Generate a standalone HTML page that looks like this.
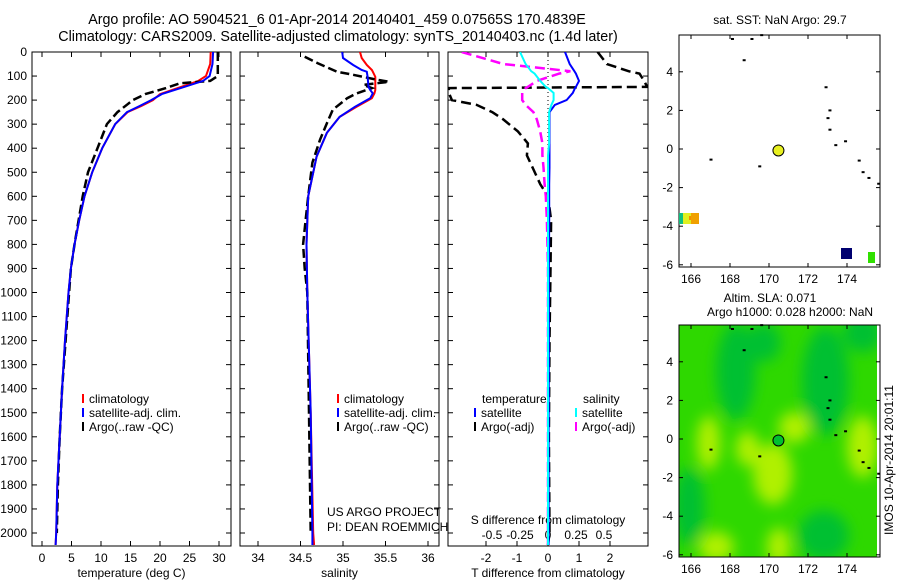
<!DOCTYPE html>
<html><head><meta charset="utf-8"><style>
body{margin:0;background:#fff;width:900px;height:580px;overflow:hidden;font-family:"Liberation Sans",sans-serif}
svg text{font-family:"Liberation Sans",sans-serif;font-size:12px;fill:#000}
</style></head><body>
<svg id="c" width="900" height="580">
<defs>
<clipPath id="cp1"><rect x="32" y="52" width="199" height="494"/></clipPath>
<clipPath id="cp2"><rect x="240" y="52" width="199" height="494"/></clipPath>
<clipPath id="cp3"><rect x="448" y="52" width="200" height="494"/></clipPath>
<clipPath id="cpm"><rect x="679" y="325" width="198" height="232"/></clipPath>
<filter id="bl" x="-50%" y="-50%" width="200%" height="200%"><feGaussianBlur stdDeviation="7"/></filter>
</defs>
<text x="337" y="24" text-anchor="middle" style="font-size:14.3px">Argo profile: AO 5904521_6 01-Apr-2014 20140401_459 0.07565S 170.4839E</text>
<text x="338" y="41" text-anchor="middle" style="font-size:14.3px">Climatology: CARS2009. Satellite-adjusted climatology: synTS_20140403.nc (1.4d later)</text>
<g id="g"></g>
</svg>
<script>
// ---- data ----
const tempDepth=[0,50,100,120,150,175,200,225,250,300,400,500,600,700,800,900,1000,1200,1400,1600,1800,2000,2050];
const tempClim=[28.6,28.5,27.8,26.5,23,20,18.8,16.8,14.5,12.4,10.2,8.5,7.2,6.3,5.5,4.9,4.5,3.9,3.4,3.0,2.6,2.4,2.3];
const tempSat=[29,28.9,28.4,27.3,23.5,20.3,18.5,16.5,14.4,12.4,10.2,8.5,7.2,6.3,5.5,4.9,4.5,3.9,3.4,3.0,2.6,2.4,2.3];
const argoTDepth=[0,100,120,130,150,175,200,250,300,400,500,600,700,800,900,1000,1200,1400,1600,1800,2000];
const argoTemp=[29.8,29.8,28.5,23.4,21,17.5,15.4,12.8,11,9.4,7.8,6.9,6.2,5.5,4.9,4.6,4.0,3.4,3.0,2.7,2.5];
const salDepth=[0,25,54,75,82,103,145,158,172,192,200,228,270,336,435,600,800,1000,1500,2000,2050];
const salClim=[35.2,35.22,35.28,35.34,35.35,35.38,35.38,35.38,35.37,35.34,35.3,35.16,34.96,34.81,34.69,34.59,34.57,34.58,34.62,34.65,34.66];
const salSat=[34.99,35.0,35.12,35.22,35.28,35.29,35.3,35.32,35.35,35.32,35.28,35.14,34.96,34.81,34.69,34.59,34.57,34.58,34.62,34.64,34.64];
const argoSDepth=[20,46,82,95,112,124,137,150,172,192,240,296,365,460,600,700,800,900,1000,1500,2000];
const argoSal=[34.55,34.7,34.93,35.12,35.35,35.54,35.24,35.34,35.16,35.05,34.88,34.81,34.73,34.64,34.59,34.56,34.53,34.55,34.58,34.6,34.62];
const dDepth=[0,50,80,90,120,145,150,170,200,220,250,280,330,380,430,480,550,600,700,900,1200,1600,2000,2050];
const dTsat=[0.55,0.7,0.85,0.9,1.0,0.9,0.87,0.8,0.6,0.22,0.05,0.05,0.05,0.05,0.05,0.05,0.04,0.04,0.04,0.03,0.03,0.02,0.02,0.02];
const dTargo=[1.6,1.9,2.6,2.95,3.1,3.2,-3.2,-3.2,-3.1,-2.3,-1.8,-1.45,-0.97,-0.65,-0.68,-0.5,-0.25,0,0.1,0.08,0.05,0.03,0.05,0.0];
const dSsat=[-0.25,-0.2,-0.15,-0.12,-0.07,-0.02,0,0.05,0.05,0.03,0.01,0.01,0.01,0.01,0.0,0.0,0.0,0.0,0.0,0.0,0.0,0.0,0.0,0.0];
const dSargo=[-0.77,-0.4,0.2,0.1,-0.1,-0.18,-0.2,-0.23,-0.23,-0.2,-0.13,-0.1,-0.07,-0.05,-0.05,-0.04,-0.03,-0.02,-0.01,0,0,0,0,0];
const depthTicks=[0,100,200,300,400,500,600,700,800,900,1000,1100,1200,1300,1400,1500,1600,1700,1800,1900,2000];
const tempTicks=[0,5,10,15,20,25,30];
const salTicks=[34,34.5,35,35.5,36];
const dTTicks=[-2,-1,0,1,2];
const dSTicks=[-0.5,-0.25,0,0.25,0.5];
const lonTicks=[166,168,170,172,174];
const latTicks=[4,2,0,-2,-4,-6];
const argoLon=170.4839, argoLat=-0.07565;

const NS='http://www.w3.org/2000/svg';
const G=document.getElementById('g');
function el(t,a,p){const e=document.createElementNS(NS,t);for(const k in a)e.setAttribute(k,a[k]);(p||G).appendChild(e);return e;}
function txt(x,y,s,anchor,p){const e=el('text',{x:x,y:y,'text-anchor':anchor||'middle'},p);e.textContent=s;return e;}
const yD=d=>52+d*0.2405;
const xT=v=>42+v*5.9;
const xS=v=>258+(v-34)*85;
const xdT=v=>548+v*31;
const xdS=v=>548+v*112;
const lonX=l=>691+(l-166)*19.5;
const latY1=l=>149-l*19.3;
const latY2=l=>439-l*19.3;

function line(xs,ds,fx,col,dash,clip,name){
  const pts=xs.map((v,i)=>fx(v).toFixed(1)+','+yD(ds[i]).toFixed(1)).join(' ');
  const e=el('polyline',{points:pts,fill:'none',stroke:col,'stroke-width':dash?2.5:2,'stroke-dasharray':dash||'none','clip-path':'url(#'+clip+')'});
  
  
}
function panel(x0,x1,ticks,fx,labels,title,name,depthLabels){
  const f=el('rect',{x:x0,y:52,width:x1-x0,height:494,fill:'none',stroke:'#000','stroke-width':1});
  
  
  depthTicks.forEach(d=>{const y=yD(d);el('line',{x1:x0,x2:x0+5,y1:y,y2:y,stroke:'#000'});el('line',{x1:x1-5,x2:x1,y1:y,y2:y,stroke:'#000'});
    if(depthLabels){const t=txt(27,y+4,String(d),'end');}});
  ticks.forEach((v,i)=>{const x=fx(v);el('line',{x1:x,x2:x,y1:546,y2:541,stroke:'#000'});el('line',{x1:x,x2:x,y1:52,y2:57,stroke:'#000'});
    const t=txt(x,562,labels[i]);});
  const tt=txt((x0+x1)/2,577,title);
}
panel(32,231,tempTicks,xT,tempTicks.map(String),'temperature (deg C)','temperature-panel',true);
panel(240,439,salTicks,xS,salTicks.map(String),'salinity','salinity-panel',false);
panel(448,648,dTTicks,xdT,dTTicks.map(String),'T difference from climatology','difference-panel',false);
el('line',{x1:548,x2:548,y1:52,y2:546,stroke:'#000','stroke-dasharray':'1,3'});
dSTicks.forEach(v=>{const t=txt(xdS(v),539,String(v));});
const st=txt(548,524,'S difference from climatology');

line(tempClim,tempDepth,xT,'#f00',null,'cp1','temp-climatology-line');
line(argoTemp,argoTDepth,xT,'#000','9,4','cp1','temp-argo-line');
line(tempSat,tempDepth,xT,'#00f',null,'cp1','temp-satellite-line');
line(salClim,salDepth,xS,'#f00',null,'cp2','sal-climatology-line');
line(argoSal,argoSDepth,xS,'#000','9,4','cp2','sal-argo-line');
line(salSat,salDepth,xS,'#00f',null,'cp2','sal-satellite-line');
line(dTargo,dDepth,xdT,'#000','10,5','cp3','tdiff-argo-line');
line(dSargo,dDepth,xdS,'#f0f','10,5','cp3','sdiff-argo-line');
line(dTsat,dDepth,xdT,'#00f',null,'cp3','tdiff-satellite-line');
line(dSsat,dDepth,xdS,'#0ff',null,'cp3','sdiff-satellite-line');

function leg(x,y,col,s,name){el('line',{x1:x,x2:x,y1:y-5,y2:y+4,stroke:col,'stroke-width':2});const t=txt(x+6,y+4,s,'start');}
leg(83,399,'#f00','climatology','legend-climatology');
leg(83,413,'#00f','satellite-adj. clim.','legend-satellite');
leg(83,427,'#000','Argo(..raw -QC)','legend-argo');
leg(338,399,'#f00','climatology','legend-sal-climatology');
leg(338,413,'#00f','satellite-adj. clim.','legend-sal-satellite');
leg(338,427,'#000','Argo(..raw -QC)','legend-sal-argo');
{const t=txt(482,403,'temperature','start');}
{const t=txt(583,403,'salinity','start');}
leg(475,413,'#00f','satellite','legend-t-satellite');
leg(475,427,'#000','Argo(-adj)','legend-t-argo');
leg(576,413,'#0ff','satellite','legend-s-satellite');
leg(576,427,'#f0f','Argo(-adj)','legend-s-argo');
{const t=txt(327,516,'US ARGO PROJECT','start');}
{const t=txt(327,531,'PI: DEAN ROEMMICH','start');}

// ---- maps ----
function mapFrame(y0,fy,name){
  const f=el('rect',{x:679,y:y0,width:201,height:232,fill:'none',stroke:'#000'});
  
  lonTicks.forEach(l=>{const x=lonX(l);el('line',{x1:x,x2:x,y1:y0+232,y2:y0+228,stroke:'#000'});el('line',{x1:x,x2:x,y1:y0,y2:y0+4,stroke:'#000'});
    const t=txt(x,y0+248,String(l));});
  latTicks.forEach(l=>{const y=fy(l);el('line',{x1:679,x2:683,y1:y,y2:y,stroke:'#000'});el('line',{x1:876,x2:880,y1:y,y2:y,stroke:'#000'});
    const t=txt(673,y+4,String(l),'end');});
}
const mg=el('g',{'clip-path':'url(#cpm)'});


el('rect',{x:679,y:325,width:198,height:232,fill:'#2ed800'},mg);
const bf=el('g',{filter:'url(#bl)'},mg);
const darkBlobs=[[168.3,3.5,1.0,2.5],[172.9,3,1.2,2.8],[172.8,-5,1.3,1.3],[165.9,-3.5,0.8,2],[169.7,5,0.9,1],[174.8,5.5,1,1]];
const lightBlobs=[[166.9,-0.2,0.6,1.4],[170.2,-1.8,1.0,1.6],[170.5,-5.6,0.6,1.0],[174.8,-0.4,0.8,1.6],[167.3,-5.6,0.9,0.8],[171.3,0.6,0.8,0.8],[168.9,-0.5,0.6,0.9]];
darkBlobs.forEach(b=>el('ellipse',{cx:lonX(b[0]),cy:latY2(b[1]),rx:b[2]*19.5,ry:b[3]*19.3,fill:'#00c030'},bf));
lightBlobs.forEach(b=>el('ellipse',{cx:lonX(b[0]),cy:latY2(b[1]),rx:b[2]*19.5,ry:b[3]*19.3,fill:'#b0f000'},bf));
el('rect',{x:877,y:325,width:3,height:232,fill:'#fff'});
mapFrame(35,latY1,'sst-map');
mapFrame(325,latY2,'sla-map');
const coast=[[168.1,5.7],[169.1,5.7],[169.6,5.9],[168.7,4.6],[172.9,3.2],[173.1,2.0],[173,1.6],[173.1,1.0],[173.4,0.2],[173.9,0.4],[174.6,-0.6],[174.8,-1.2],[175.1,-1.5],[175.6,-1.8],[167,-0.55],[169.5,-0.9]];
[latY1,latY2].forEach(fy=>coast.forEach(c=>el('rect',{x:lonX(c[0])-1,y:fy(c[1])-1,width:3,height:2,fill:'#000'})));
[[679,213,4,11,'#10c080'],[683,213,8,11,'#e0f020'],[689,216,3,4,'#f09000'],[691,213,8,11,'#f0a000'],[841,248,11,11,'#000070'],[868,252,7,11,'#30e000']].forEach(r=>{const e=el('rect',{x:r[0],y:r[1],width:r[2],height:r[3],fill:r[4]});});
{const e=el('circle',{cx:lonX(argoLon),cy:latY1(argoLat),r:5.5,fill:'#e8f020',stroke:'#000'});}
{const e=el('circle',{cx:lonX(argoLon),cy:latY2(argoLat),r:5.5,fill:'#00c030',stroke:'#000'});}
{const t=txt(780,24,'sat. SST: NaN Argo: 29.7');}
{const t=txt(770,302,'Altim. SLA: 0.071');}
{const t=txt(790,316,'Argo h1000: 0.028 h2000: NaN');}
{const t=txt(0,0,'IMOS 10-Apr-2014 20:01:11');t.setAttribute('transform','translate(893,460) rotate(-90)');}
</script>
</body></html>
